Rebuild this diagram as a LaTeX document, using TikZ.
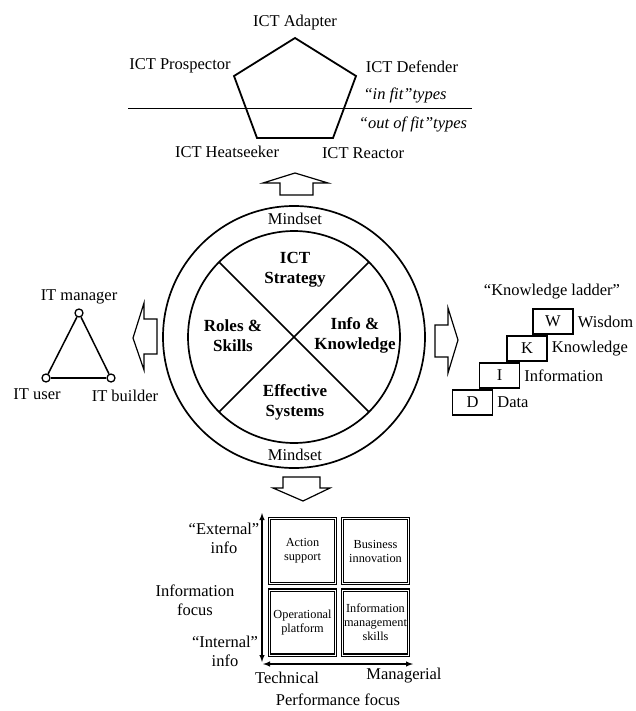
\documentclass[tikz,border=0pt]{standalone}
\usepackage{amsmath}
\usepackage{xcolor}
\usepackage{fontspec}
\setmainfont{Liberation Serif}
\usepackage{tikz}

\tikzset{
  lbl/.style={inner sep=1pt, font=\fontsize{16.5}{19}\selectfont, align=center},
  bold lbl/.style={lbl, font=\fontsize{17}{20}\selectfont\bfseries},
  small lbl/.style={inner sep=1pt, font=\fontsize{12.3}{14}\selectfont, align=center},
  blockarrow/.style={draw, line width=1.2pt, line join=miter},
  rung/.style={draw, line width=1.3pt, minimum width=40pt, minimum height=25pt, inner sep=0pt,
    font=\fontsize{16.5}{19}\selectfont},
  cell/.style={draw, double, double distance=0.9pt, line width=1.1pt, minimum width=66pt,
    minimum height=65pt, inner sep=0pt, align=center, font=\fontsize{12.3}{14}\selectfont},
  dot/.style={circle, draw, line width=1.3pt, fill=white, minimum size=8pt, inner sep=0pt}
}

\begin{document}
\begin{tikzpicture}[x=1pt, y=-1pt]
                \useasboundingbox (0,0) rectangle (636,711);
                % fit types
                \coordinate (pA) at (295,38);
                \coordinate (pD) at (356,76);
                \coordinate (pR) at (333,138);
                \coordinate (pH) at (257,138);
                \coordinate (pP) at (234,76);
                \draw [line width=1.8pt, line join=miter] (pA) -- (pD) -- (pR) -- (pH) -- (pP) -- cycle;
                \coordinate (fitL) at (128,108);
                \coordinate (fitR) at (472,108);
                \draw [line width=0.9pt] (fitL) -- (fitR);
                \node [lbl] (adapter) at (295,23) {ICT Adapter};
                \node [lbl] (prospector) at (180,66) {ICT Prospector};
                \node [lbl] (defender) at (412,67) {ICT Defender};
                \node [lbl, font=\fontsize{16.5}{19}\selectfont\itshape] (infit) at (405,95) {``in fit''types};
                \node [lbl, font=\fontsize{16.5}{19}\selectfont\itshape] (outfit) at (413,124) {``out of fit''types};
                \node [lbl] (heatseeker) at (227,152) {ICT Heatseeker};
                \node [lbl] (reactor) at (363,153) {ICT Reactor};

                % mindset wheel
                \coordinate (hub) at (294,337);
                \draw [line width=1.7pt] (hub) circle [radius=131];
                \draw [line width=1.7pt] (hub) circle [radius=106];
                \draw [line width=1.5pt] (219,262) -- (369,412);
                \draw [line width=1.5pt] (369,262) -- (219,412);
                \node [lbl] (mindtop) at (295,219) {Mindset};
                \node [lbl] (mindbot) at (295,455) {Mindset};
                \node [bold lbl] (strategy) at (295,270) {ICT\\Strategy};
                \node [bold lbl] (roles) at (233,336) {Roles \&\\Skills};
                \node [bold lbl] (info) at (355,335) {Info \&\\Knowledge};
                \node [bold lbl] (systems) at (295,402) {Effective\\Systems};

                % block arrows
                \draw [blockarrow] (295,173) -- (328,183) -- (313,183) -- (313,195) -- (280,195) -- (280,183) -- (263,183) -- cycle;
                \draw [blockarrow] (303,501) -- (330,488) -- (320,488) -- (320,477) -- (283,477) -- (283,488) -- (273,488) -- cycle;
                \draw [blockarrow] (133,338) -- (144,303) -- (144,319) -- (157,319) -- (157,354) -- (144,354) -- (144,370) -- cycle;
                \draw [blockarrow] (458,340) -- (448,308) -- (448,325) -- (435,325) -- (435,357) -- (448,357) -- (448,373) -- cycle;

                % IT roles
                \node [dot] (mgr) at (79,313) {};
                \node [dot] (usr) at (46,378) {};
                \node [dot] (bld) at (111,378) {};
                \draw [line width=1.5pt] (mgr) -- (usr);
                \draw [line width=1.5pt] (usr) -- (bld);
                \draw [line width=1.5pt] (bld) -- (mgr);
                \node [lbl] (mgrlbl) at (79,297) {IT manager};
                \node [lbl] (usrlbl) at (37,394) {IT user};
                \node [lbl] (bldlbl) at (125,396) {IT builder};

                % knowledge ladder
                \node [lbl] (ladder) at (552,292) {``Knowledge ladder''};
                \node [rung] (W) at (553,321.5) {W};
                \node [rung] (K) at (527,348.5) {K};
                \node [rung] (I) at (499.5,375.5) {I};
                \node [rung] (D) at (472.5,402.5) {D};
                \node [lbl, anchor=west, xshift=3pt] (wis) at (W.east) {Wisdom};
                \node [lbl, anchor=west, xshift=3pt] (kno) at (K.east) {Knowledge};
                \node [lbl, anchor=west, xshift=3pt] (inf) at (I.east) {Information};
                \node [lbl, anchor=west, xshift=3pt] (dat) at (D.east) {Data};

                % focus matrix
                \node [cell] (action) at (302.5,551) {Action\\support};
                \node [cell] (business) at (375.5,551) {Business\\innovation};
                \node [cell] (operational) at (302.5,622.5) {Operational\\platform};
                \node [cell] (infomgmt) at (375.5,622.5) {Information\\management\\skills};
                \coordinate (ytop) at (262,513);
                \coordinate (ybot) at (262,662);
                \coordinate (xlft) at (263,664);
                \coordinate (xrgt) at (413,664);
                \draw [<->, >=latex, line width=1.4pt] (ytop) -- (ybot);
                \draw [<->, >=latex, line width=1.4pt] (xlft) -- (xrgt);
                \node [lbl] (external) at (224,538) {``External''\\info};
                \node [lbl] (infofocus) at (195,600) {Information\\focus};
                \node [lbl] (internal) at (225,651) {``Internal''\\info};
                \node [lbl] (technical) at (287,678) {Technical};
                \node [lbl] (managerial) at (404,676) {Managerial};
                \node [lbl] (perffocus) at (338,700) {Performance focus};
            \end{tikzpicture}
\end{document}
